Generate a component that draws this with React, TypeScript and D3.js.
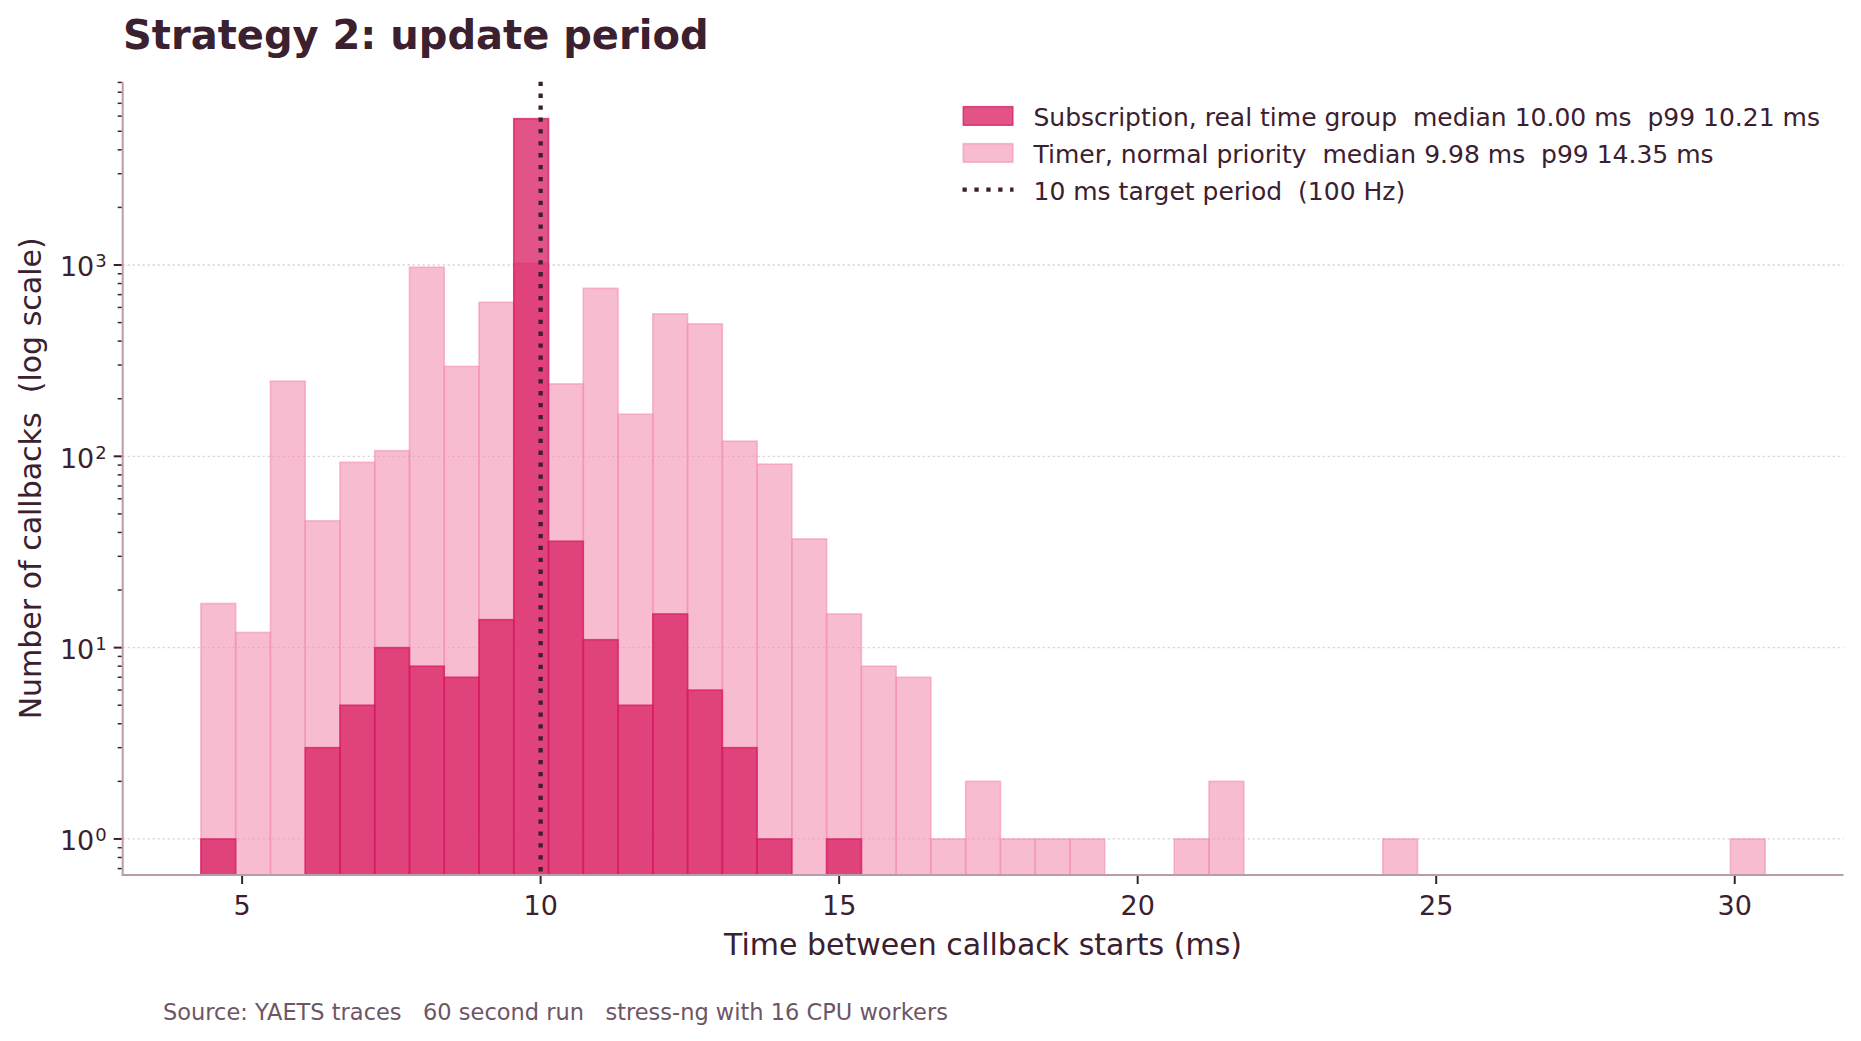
import React, { useRef, useEffect } from 'react';
import * as d3 from 'd3';

// histogram bins shared by both series (ms)
const binStart = 4.31;
const binEnd = 30.51;
const binCount = 45;

// counts per bin
const timerCounts = [
    17, 12, 247, 46, 93, 107, 973, 295, 638, 1020,
    239, 755, 166, 555, 492, 120, 91, 37, 15, 8,
    7, 1, 2, 1, 1, 1, 0, 0, 1, 2,
    0, 0, 0, 0, 1, 0, 0, 0, 0, 0,
    0, 0, 0, 0, 1,
];
const subscriptionCounts = [
    1, 0, 0, 3, 5, 10, 8, 7, 14, 5820,
    36, 11, 5, 15, 6, 3, 1, 0, 1, 0,
    0, 0, 0, 0, 0, 0, 0, 0, 0, 0,
    0, 0, 0, 0, 0, 0, 0, 0, 0, 0,
    0, 0, 0, 0, 0,
];

const xTicks = [5, 10, 15, 20, 25, 30];
const yMajor = [0, 1, 2, 3]; // powers of ten
const yDomain = [0.648, 9080];
const targetPeriod = 10;

const legendItems = [
    { kind: 'sub', label: 'Subscription, real time group  median 10.00 ms  p99 10.21 ms' },
    { kind: 'timer', label: 'Timer, normal priority  median 9.98 ms  p99 14.35 ms' },
    { kind: 'line', label: '10 ms target period  (100 Hz)' },
];

const TEXT = '#3b2030';
const SUB = '#d81b60';
const TIMER = '#f48fb1';
const FONT = '"DejaVu Sans", sans-serif';

const App: React.FC = () => {
    const svgRef = useRef<SVGSVGElement | null>(null);

    useEffect(() => {
        if (!svgRef.current) return;
        const width = 1861;
        const height = 1041;
        const m = { left: 122.7, right: 17.6, top: 81.7, bottom: 166 };

        const svg = d3.select(svgRef.current);
        svg.selectAll('*').remove();
        svg.attr('width', width).attr('height', height)
            .style('font-family', FONT);

        const binW = (binEnd - binStart) / binCount;
        const edges = d3.range(binCount + 1).map(i => binStart + i * binW);
        const pad = 0.05 * (binEnd - binStart);

        const x = d3.scaleLinear()
            .domain([binStart - pad, binEnd + pad])
            .range([m.left, width - m.right]);
        const y = d3.scaleLog()
            .domain(yDomain)
            .range([height - m.bottom, m.top]);
        const y0 = height - m.bottom;

        // grid
        svg.append('g').selectAll('line')
            .data(yMajor)
            .join('line')
            .attr('x1', m.left).attr('x2', width - m.right)
            .attr('y1', d => y(10 ** d)).attr('y2', d => y(10 ** d))
            .attr('stroke', '#dccbd3')
            .attr('stroke-width', 1.3)
            .attr('stroke-dasharray', '2 3');

        const drawBars = (counts: number[], color: string, fo: number, so: number) => {
            svg.append('g').selectAll('rect')
                .data(counts.map((c, i) => ({ c, i })).filter(d => d.c > 0))
                .join('rect')
                .attr('x', d => x(edges[d.i]))
                .attr('width', d => x(edges[d.i + 1]) - x(edges[d.i]))
                .attr('y', d => y(d.c))
                .attr('height', d => y0 - y(d.c))
                .attr('fill', color)
                .attr('fill-opacity', fo)
                .attr('stroke', color)
                .attr('stroke-opacity', so)
                .attr('stroke-width', 1.6);
        };
        drawBars(timerCounts, TIMER, 0.6, 0.6);
        drawBars(subscriptionCounts, SUB, 0.75, 0.75);

        // target period line
        svg.append('line')
            .attr('x1', x(targetPeriod)).attr('x2', x(targetPeriod))
            .attr('y1', m.top).attr('y2', y0)
            .attr('stroke', TEXT)
            .attr('stroke-width', 4.3)
            .attr('stroke-dasharray', '4.3 7.6');

        // spines
        const spine = '#b99cab';
        svg.append('line')
            .attr('x1', m.left).attr('x2', m.left)
            .attr('y1', m.top).attr('y2', y0 + 1)
            .attr('stroke', spine).attr('stroke-width', 2);
        svg.append('line')
            .attr('x1', m.left - 1).attr('x2', width - m.right)
            .attr('y1', y0).attr('y2', y0)
            .attr('stroke', spine).attr('stroke-width', 2);

        // x ticks
        const xt = svg.append('g').selectAll('g')
            .data(xTicks)
            .join('g')
            .attr('transform', d => `translate(${x(d)},${y0})`);
        xt.append('line').attr('y1', 1).attr('y2', 9)
            .attr('stroke', TEXT).attr('stroke-width', 2);
        xt.append('text')
            .attr('y', 40)
            .attr('text-anchor', 'middle')
            .attr('font-size', 27)
            .attr('fill', TEXT)
            .text(d => String(d));

        // y minor ticks
        const minors: number[] = [];
        for (let p = -1; p <= 3; p++) {
            for (let k = 2; k <= 9; k++) {
                const v = k * 10 ** p;
                if (v >= yDomain[0] && v <= yDomain[1]) minors.push(v);
            }
        }
        svg.append('g').selectAll('line')
            .data(minors)
            .join('line')
            .attr('x1', m.left - 5).attr('x2', m.left - 1)
            .attr('y1', d => y(d)).attr('y2', d => y(d))
            .attr('stroke', TEXT).attr('stroke-width', 1.5);

        // y major ticks + labels
        const yt = svg.append('g').selectAll('g')
            .data(yMajor)
            .join('g')
            .attr('transform', d => `translate(${m.left},${y(10 ** d)})`);
        yt.append('line').attr('x1', -9).attr('x2', -1)
            .attr('stroke', TEXT).attr('stroke-width', 2);
        const yl = yt.append('text')
            .attr('x', -16)
            .attr('y', 11.5)
            .attr('text-anchor', 'end')
            .attr('fill', TEXT)
            .attr('font-size', 27);
        yl.append('tspan').text('10');
        yl.append('tspan')
            .attr('font-size', 18)
            .attr('dy', -9)
            .attr('dx', 1)
            .text(d => String(d));

        // axis labels
        svg.append('text')
            .attr('x', (m.left + width - m.right) / 2)
            .attr('y', 955)
            .attr('text-anchor', 'middle')
            .attr('font-size', 30)
            .attr('fill', TEXT)
            .text('Time between callback starts (ms)');
        svg.append('text')
            .attr('transform', `translate(40.7,${(m.top + y0) / 2}) rotate(-90)`)
            .attr('text-anchor', 'middle')
            .attr('font-size', 30)
            .attr('fill', TEXT)
            .text('Number of callbacks  (log scale)');

        // title
        svg.append('text')
            .attr('x', 123)
            .attr('y', 49)
            .attr('font-size', 40)
            .attr('font-weight', 'bold')
            .attr('fill', TEXT)
            .text('Strategy 2: update period');

        // legend
        const lg = svg.append('g').selectAll('g')
            .data(legendItems)
            .join('g')
            .attr('transform', (d, i) => `translate(962.5,${125.7 + i * 37})`);
        lg.filter(d => d.kind !== 'line').append('rect')
            .attr('x', 0.8).attr('y', -19)
            .attr('width', 49.5).attr('height', 18.5)
            .attr('fill', d => d.kind === 'sub' ? SUB : TIMER)
            .attr('fill-opacity', d => d.kind === 'sub' ? 0.75 : 0.6)
            .attr('stroke', d => d.kind === 'sub' ? SUB : TIMER)
            .attr('stroke-opacity', d => d.kind === 'sub' ? 0.75 : 0.6)
            .attr('stroke-width', 1.6);
        lg.filter(d => d.kind === 'line').append('line')
            .attr('x1', 0).attr('x2', 51)
            .attr('y1', -10).attr('y2', -10)
            .attr('stroke', TEXT)
            .attr('stroke-width', 4.3)
            .attr('stroke-dasharray', '4.3 7.6');
        lg.append('text')
            .attr('x', 71)
            .attr('font-size', 25)
            .attr('fill', TEXT)
            .text(d => d.label);

        // footnote
        svg.append('text')
            .attr('x', 163)
            .attr('y', 1020)
            .attr('font-size', 22.5)
            .attr('fill', '#6e5566')
            .text('Source: YAETS traces   60 second run   stress-ng with 16 CPU workers');

        // keep the double spaces in labels
        svg.selectAll('text')
            .attr('xml:space', 'preserve')
            .style('white-space', 'pre');
    }, []);

    return (
        <svg
            ref={svgRef}
            width="1861"
            height="1041"
            style={{ position: 'absolute', left: 0, top: 0, display: 'block', background: '#fff' }}
        />
    );
};

export default App;
